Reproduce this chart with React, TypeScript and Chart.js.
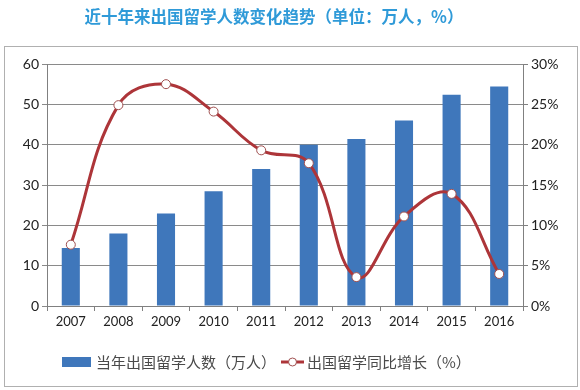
import React, { useEffect, useRef } from "react";
import { Chart, registerables } from "chart.js";

Chart.register(...registerables);

const years = ["2007", "2008", "2009", "2010", "2011", "2012", "2013", "2014", "2015", "2016"];
const students = [14.4, 17.98, 22.93, 28.47, 33.97, 39.96, 41.39, 45.98, 52.37, 54.45];
const growth = [7.6, 24.9, 27.5, 24.1, 19.3, 17.7, 3.58, 11.1, 13.9, 3.97];
const barLabel = "当年出国留学人数（万人）";
const lineLabel = "出国留学同比增长（%）";
const titleText = "近十年来出国留学人数变化趋势（单位：万人，%）";

const BAR_COLOR = "#3f77bb";
const LINE_COLOR = "#ad3539";
const X_FONT = { family: "Lato", size: 13 };
const Y_FONT = { family: "Lato", size: 14 };

export default function App() {
  const ref = useRef<HTMLCanvasElement | null>(null);
  useEffect(() => {
    if (!ref.current) return;
    const decor = {
      id: "decor",
      beforeDraw(chart: any) {
        const ctx = chart.ctx;
        ctx.save();
        ctx.fillStyle = "#ffffff";
        ctx.fillRect(0, 0, chart.width, chart.height);
        ctx.strokeStyle = "#b0b0b0";
        ctx.lineWidth = 1;
        ctx.strokeRect(4.5, 46.5, 573, 340);
        ctx.restore();
      },
      afterDraw(chart: any) {
        const ctx = chart.ctx;
        ctx.save();
        ctx.font = 'bold 16.5px "Noto Sans CJK SC"';
        ctx.fillStyle = "#2f9ad8";
        ctx.textAlign = "center";
        ctx.textBaseline = "middle";
        ctx.fillText(titleText, 274, 17);
        const ly = 362;
        ctx.font = '15px "Noto Sans CJK SC"';
        ctx.textAlign = "left";
        ctx.fillStyle = BAR_COLOR;
        ctx.fillRect(62, ly - 5, 29, 10);
        ctx.fillStyle = "#4a4a4a";
        ctx.fillText(barLabel, 96, ly);
        ctx.strokeStyle = LINE_COLOR;
        ctx.lineWidth = 3;
        ctx.beginPath();
        ctx.moveTo(281, ly);
        ctx.lineTo(304, ly);
        ctx.stroke();
        ctx.beginPath();
        ctx.arc(292.5, ly, 4, 0, Math.PI * 2);
        ctx.fillStyle = "#ffffff";
        ctx.fill();
        ctx.lineWidth = 1;
        ctx.strokeStyle = "#a05050";
        ctx.stroke();
        ctx.fillStyle = "#4a4a4a";
        ctx.fillText(lineLabel, 307, ly);
        ctx.restore();
      },
    };
    const chart = new Chart(ref.current, {
      type: "bar",
      data: {
        labels: years,
        datasets: [
          {
            type: "line",
            label: lineLabel,
            data: growth,
            yAxisID: "y1",
            borderColor: LINE_COLOR,
            borderWidth: 3,
            tension: 0.4,
            pointRadius: 4.5,
            pointBackgroundColor: "#ffffff",
            pointBorderColor: "#a05050",
            pointBorderWidth: 1,
            order: 0,
          } as any,
          {
            type: "bar",
            label: barLabel,
            data: students,
            yAxisID: "y",
            backgroundColor: BAR_COLOR,
            categoryPercentage: 1,
            barPercentage: 0.38,
            order: 1,
          },
        ],
      },
      options: {
        responsive: false,
        animation: false,
        layout: { padding: { top: 64, bottom: 54, left: 0, right: 0 } },
        plugins: {
          legend: { display: false },
          title: { display: false },
          tooltip: { enabled: false },
        },
        scales: {
          x: {
            offset: true,
            afterFit(s: any) {
              s.height = 30;
            },
            grid: {
              offset: true,
              drawOnChartArea: false,
              drawTicks: true,
              tickLength: 5,
              color: "#808080",
            },
            border: { color: "#808080" },
            ticks: { color: "#222", font: X_FONT, padding: 3 },
          },
          y: {
            position: "left",
            min: 0,
            max: 60,
            afterFit(s: any) {
              s.width = 47;
            },
            ticks: { stepSize: 10, color: "#222", font: Y_FONT, padding: 3 },
            grid: { color: "#8a8a8a", tickLength: 5 },
            border: { color: "#808080" },
          },
          y1: {
            position: "right",
            min: 0,
            max: 30,
            afterFit(s: any) {
              s.width = 57;
            },
            ticks: {
              stepSize: 5,
              color: "#222",
              font: Y_FONT,
              padding: 3,
              callback: (v: any) => v + "%",
            },
            grid: { drawOnChartArea: false, tickLength: 5, color: "#808080" },
            border: { color: "#808080" },
          },
        },
      },
      plugins: [decor],
    });
    return () => chart.destroy();
  }, []);
  return (
    <div style={{ position: "fixed", left: 0, top: 0, width: 580, height: 390 }}>
      <canvas ref={ref} width={580} height={390} />
    </div>
  );
}
